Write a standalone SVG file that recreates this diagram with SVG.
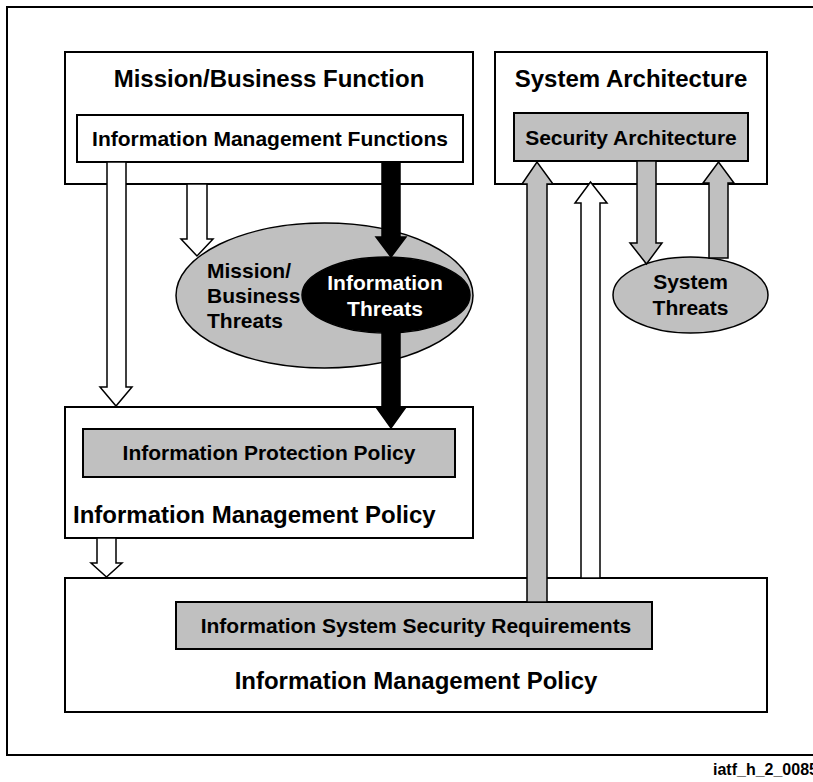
<svg xmlns="http://www.w3.org/2000/svg" width="813" height="782" viewBox="0 0 813 782">
<style>
text{font-family:"Liberation Sans",Arial,Helvetica,sans-serif;font-weight:bold;fill:#000}
.t24{font-size:24px}
.t21{font-size:21px}
.c{text-anchor:middle}
.box{fill:#fff;stroke:#000;stroke-width:2}
.gbox{fill:#c0c0c0;stroke:#000;stroke-width:2}
.gell{fill:#c0c0c0;stroke:#000;stroke-width:1.5}
.bell{fill:#000;stroke:#000;stroke-width:1.5}
.aw{fill:#fff;stroke:#000;stroke-width:1.5;stroke-linejoin:miter}
.ag{fill:#c0c0c0;stroke:#000;stroke-width:1.5;stroke-linejoin:miter}
.ab{fill:#000;stroke:#000;stroke-width:1.5;stroke-linejoin:miter}
.w{fill:#fff}
</style>
<rect width="813" height="782" fill="#fff"/>
<rect id="frame" x="7" y="7" width="830" height="748" fill="none" stroke="#000" stroke-width="2"/>

<g id="mission-business-function">
<rect class="box" x="65" y="52" width="408" height="132"/>
<text class="t24 c" x="269" y="87">Mission/Business Function</text>
</g>
<g id="information-management-functions">
<rect class="box" x="77" y="115" width="386" height="47"/>
<text class="t21 c" x="270" y="146">Information Management Functions</text>
</g>
<g id="system-architecture">
<rect class="box" x="495" y="52" width="272" height="132"/>
<text class="t24 c" x="631" y="87">System Architecture</text>
</g>
<g id="security-architecture">
<rect class="gbox" x="514" y="113" width="234" height="48"/>
<text class="t21 c" x="631" y="145">Security Architecture</text>
</g>
<g id="information-management-policy-upper">
<rect class="box" x="65" y="407" width="408" height="131"/>
<text class="t24" x="73" y="523">Information Management Policy</text>
</g>
<g id="information-protection-policy">
<rect class="gbox" x="83" y="429" width="372" height="48"/>
<text class="t21 c" x="269" y="460">Information Protection Policy</text>
</g>
<g id="information-management-policy-lower">
<rect class="box" x="65" y="578" width="702" height="134"/>
<text class="t24 c" x="416" y="689">Information Management Policy</text>
</g>
<g id="information-system-security-requirements">
<rect class="gbox" x="176" y="602" width="476" height="47"/>
<text class="t21 c" x="416" y="633">Information System Security Requirements</text>
</g>
<g id="mission-business-threats">
<ellipse class="gell" cx="324.5" cy="295.5" rx="148.5" ry="72.5"/>
<text class="t21" x="207" y="278">Mission/</text>
<text class="t21" x="207" y="303">Business</text>
<text class="t21" x="207" y="328">Threats</text>
</g>
<g id="system-threats">
<ellipse class="gell" cx="690.5" cy="295" rx="77.5" ry="38"/>
<text class="t21 c" x="690.5" y="289">System</text>
<text class="t21 c" x="690.5" y="315">Threats</text>
</g>

<g id="connectors">
<path class="aw" d="M107,162 L126,162 L126,387 L132,387 L116,406 L100,387 L107,387 Z"/>
<path class="aw" d="M187,184 L207,184 L207,239 L213,239 L197,256 L181,239 L187,239 Z"/>
<path class="ab" d="M382,162 L400,162 L400,237 L406,237 L391,257 L376,237 L382,237 Z"/>
<path class="ab" d="M382,325 L400,325 L400,407 L406,407 L391,428 L376,407 L382,407 Z"/>
<path class="aw" d="M97,538 L116,538 L116,563 L122,563 L106.5,577 L91,563 L97,563 Z"/>
<path class="ag" d="M527,602 L547,602 L547,184 L553,184 L537,162 L522,184 L527,184 Z"/>
<path class="aw" d="M581,578 L600,578 L600,203 L607,203 L590.5,182 L575,203 L581,203 Z"/>
<path class="ag" d="M637,161 L656,161 L656,243 L662,243 L646.5,264 L630,243 L637,243 Z"/>
<path class="ag" d="M709,258 L728,258 L728,183 L734,183 L718.5,162 L703,183 L709,183 Z"/>
</g>

<g id="information-threats">
<ellipse class="bell" cx="386" cy="295" rx="84" ry="38"/>
<text class="t21 c w" x="385" y="290">Information</text>
<text class="t21 c w" x="385" y="316">Threats</text>
</g>

<text id="figure-id" x="713" y="775" style="font-size:16px">iatf_h_2_0085</text>
</svg>
